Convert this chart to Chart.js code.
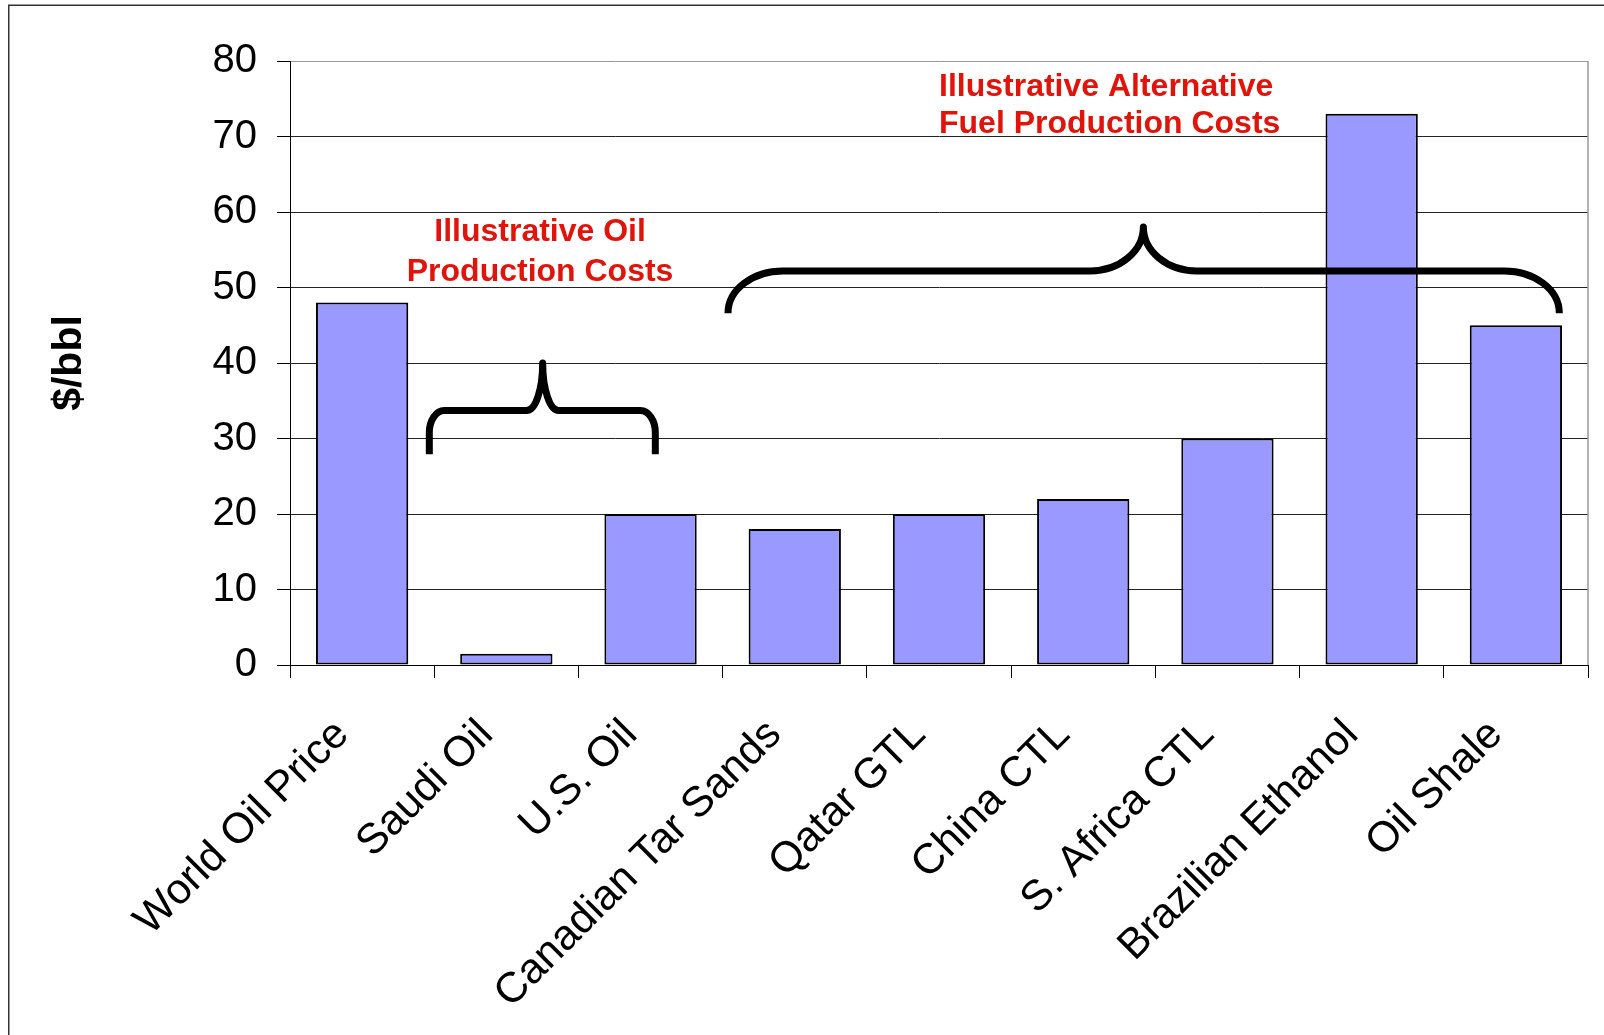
<!DOCTYPE html>
<html>
<head>
<meta charset="utf-8">
<title>Oil and Alternative Fuel Production Costs</title>
<script src="https://cdn.jsdelivr.net/npm/chart.js@4.4.1/dist/chart.umd.min.js"></script>
<style>
  html, body { margin: 0; padding: 0; background: #ffffff; }
  #wrap { width: 1604px; height: 1035px; position: relative; }
</style>
</head>
<body>
<div id="wrap"><canvas id="chart" width="1604" height="1035"></canvas></div>
<script>
// Production cost per barrel by source
const categories = [
  'World Oil Price', 'Saudi Oil', 'U.S. Oil', 'Canadian Tar Sands', 'Qatar GTL',
  'China CTL', 'S. Africa CTL', 'Brazilian Ethanol', 'Oil Shale'
];
const costs = [48, 1.5, 20, 18, 20, 22, 30, 73, 45];
const yTickValues = [0, 10, 20, 30, 40, 50, 60, 70, 80];

// Braces grouping the categories (category index and $/bbl positions)
const oilBrace = { from: 0.466, tip: 1.252, to: 2.033, end: 27.9, bar: 33.7, peak: 40.0 };
const altBrace = { from: 2.537, tip: 5.417, to: 8.301, end: 46.6, bar: 52.2, peak: 58.0 };

// Group captions
const oilCaption = { lines: ['Illustrative Oil', 'Production Costs'], x: 1.234, y: [56.1, 50.9], align: 'center' };
const altCaption = { lines: ['Illustrative Alternative', 'Fuel Production Costs'], x: 4.0, y: [75.4, 70.5], align: 'left' };

const FONT = '"Liberation Sans", Arial, Helvetica, sans-serif';

function drawBrace(ctx, xs, ys, b, endR, tipRx) {
  const x0 = xs.getPixelForValue(b.from);
  const xt = xs.getPixelForValue(b.tip);
  const x1 = xs.getPixelForValue(b.to);
  const yEnd = ys.getPixelForValue(b.end);
  const yBar = ys.getPixelForValue(b.bar);
  const yTip = ys.getPixelForValue(b.peak);
  const erx = endR[0];
  const ery = Math.min(endR[1], yEnd - yBar);
  const tipRy = yBar - yTip;
  ctx.beginPath();
  ctx.moveTo(x0, yEnd);
  ctx.lineTo(x0, yBar + ery);
  ctx.ellipse(x0 + erx, yBar + ery, erx, ery, 0, Math.PI, 1.5 * Math.PI, false);
  ctx.lineTo(xt - tipRx, yBar);
  ctx.ellipse(xt - tipRx, yBar - tipRy, tipRx, tipRy, 0, 0.5 * Math.PI, 0, true);
  ctx.ellipse(xt + tipRx, yBar - tipRy, tipRx, tipRy, 0, Math.PI, 0.5 * Math.PI, true);
  ctx.lineTo(x1 - erx, yBar);
  ctx.ellipse(x1 - erx, yBar + ery, erx, ery, 0, 1.5 * Math.PI, 2 * Math.PI, false);
  ctx.lineTo(x1, yEnd);
  ctx.stroke();
}

function drawCaption(ctx, xs, ys, cap) {
  ctx.fillStyle = '#e0140a';
  ctx.font = 'bold 32px ' + FONT;
  ctx.textAlign = cap.align;
  ctx.textBaseline = 'alphabetic';
  const x = xs.getPixelForValue(cap.x);
  cap.lines.forEach((line, i) => ctx.fillText(line, x, ys.getPixelForValue(cap.y[i])));
}

const framePlugin = {
  id: 'frame',
  beforeDraw(chart) {
    const ctx = chart.ctx;
    ctx.save();
    ctx.fillStyle = '#ffffff';
    ctx.fillRect(0, 0, chart.width, chart.height);
    ctx.strokeStyle = '#333333';
    ctx.lineWidth = 1.5;
    ctx.beginPath();
    ctx.moveTo(8.75, chart.height);
    ctx.lineTo(8.75, 5.25);
    ctx.lineTo(chart.width, 5.25);
    ctx.stroke();
    ctx.restore();
  },
  beforeDatasetsDraw(chart) {
    const { ctx, chartArea } = chart;
    ctx.save();
    ctx.strokeStyle = '#999999';
    ctx.lineWidth = 1.5;
    ctx.beginPath();
    ctx.moveTo(chartArea.right, chartArea.top);
    ctx.lineTo(chartArea.right, chartArea.bottom);
    ctx.stroke();
    ctx.restore();
  },
  afterDatasetsDraw(chart) {
    const ctx = chart.ctx;
    const xs = chart.scales.x, ys = chart.scales.y;
    ctx.save();
    ctx.strokeStyle = '#000000';
    ctx.lineWidth = 7;
    ctx.lineCap = 'butt';
    ctx.lineJoin = 'round';
    drawBrace(ctx, xs, ys, oilBrace, [15, 22], 16);
    drawBrace(ctx, xs, ys, altBrace, [55, 42], 53);
    drawCaption(ctx, xs, ys, oilCaption);
    drawCaption(ctx, xs, ys, altCaption);
    ctx.restore();
  }
};

new Chart(document.getElementById('chart'), {
  type: 'bar',
  data: {
    labels: categories,
    datasets: [{
      data: costs,
      backgroundColor: '#9999ff',
      borderColor: '#000000',
      borderWidth: 2,
      borderSkipped: false,
      barPercentage: 0.64,
      categoryPercentage: 1.0
    }]
  },
  options: {
    responsive: false,
    animation: false,
    devicePixelRatio: 1,
    layout: { padding: { top: 61, right: 16, left: 0, bottom: 0 } },
    plugins: {
      legend: { display: false },
      tooltip: { enabled: false },
      title: { display: false }
    },
    scales: {
      x: {
        offset: true,
        grid: {
          offset: true,
          drawOnChartArea: false,
          drawTicks: true,
          tickLength: 13,
          tickColor: '#000000',
          tickWidth: 1
        },
        border: { display: true, color: '#000000', width: 1 },
        ticks: {
          autoSkip: false,
          minRotation: 45,
          maxRotation: 45,
          padding: 32,
          labelOffset: -20,
          color: '#000000',
          font: { family: FONT, size: 42.5 }
        },
        afterFit(scale) { scale.height = 370; }
      },
      y: {
        min: 0,
        max: 80,
        afterBuildTicks(scale) { scale.ticks = yTickValues.map(v => ({ value: v })); },
        grid: {
          color: (c) => (c.tick && c.tick.value === 80 ? '#999999' : '#222222'),
          lineWidth: 1,
          drawTicks: true,
          tickLength: 13,
          tickColor: '#000000'
        },
        border: { display: true, color: '#000000', width: 1 },
        ticks: {
          padding: 20,
          color: '#000000',
          font: { family: FONT, size: 40 }
        },
        title: {
          display: true,
          text: '$/bbl',
          color: '#000000',
          font: { family: FONT, size: 41, weight: 'bold' },
          padding: { top: 45, bottom: 0 }
        },
        afterFit(scale) { scale.width = 290; }
      }
    }
  },
  plugins: [framePlugin]
});
</script>
</body>
</html>
